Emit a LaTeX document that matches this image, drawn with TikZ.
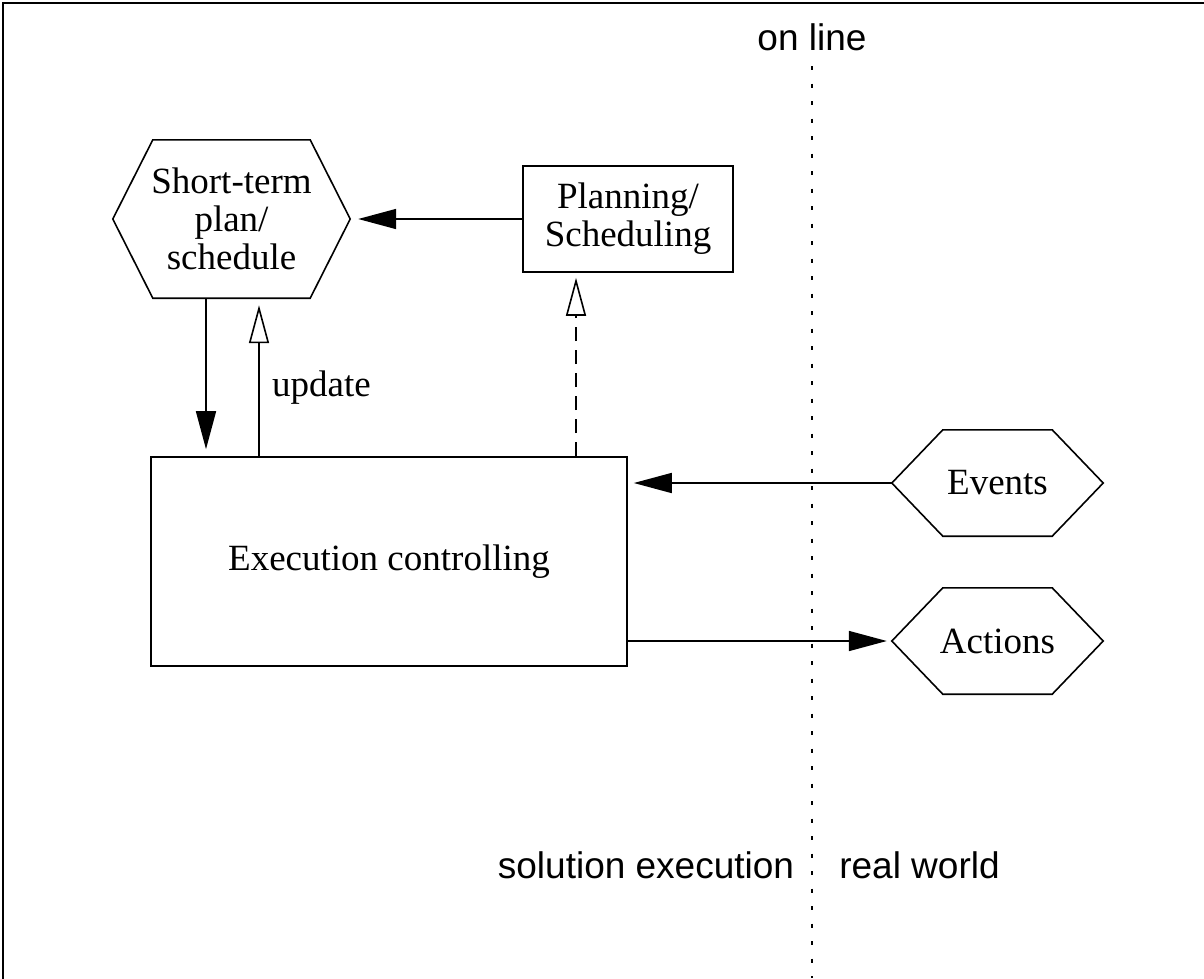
\documentclass[tikz,border=0pt]{standalone}
\usepackage{fontspec}
\setmainfont{Liberation Serif}
\setsansfont{Liberation Sans}
\usetikzlibrary{arrows.meta,calc}
\begin{document}
\begin{tikzpicture}[x=1pt,y=-1pt,
  every node/.style={font=\fontsize{37}{38}\selectfont},
  ln/.style={line width=1.6pt},
  boxnode/.style={draw,ln,rectangle,inner sep=0pt,align=center},
  hexnode/.style={rectangle,inner sep=0pt,align=center},
  sanslabel/.style={font=\fontsize{37}{38}\selectfont\sffamily,inner sep=0pt},
  fillarrow/.style={ln,-{Triangle[length=38pt,width=20pt]}},
  openarrow/.style={ln,-{Triangle[open,length=38pt,width=20pt,line width=1.6pt]}},
  dotline/.style={line width=2pt,dash pattern=on 4pt off 13.5pt}
]
\useasboundingbox (0,0) rectangle (1204,978);
\clip (0,0) rectangle (1204,978);
\draw[line width=2pt] (3,1000) -- (3,3) -- (1220,3);

% nodes
\node[hexnode,minimum width=237pt,minimum height=158pt] (stp) at (231.5,219) {Short-term\\plan/\\schedule};
\draw[ln] (stp.west) -- ([xshift=40pt]stp.north west) -- ([xshift=-40pt]stp.north east) -- (stp.east)
  -- ([xshift=-40pt]stp.south east) -- ([xshift=40pt]stp.south west) -- cycle;

\node[boxnode,minimum width=210pt,minimum height=106pt] (plan) at (628,219) {Planning/\\Scheduling};

\node[boxnode,minimum width=476pt,minimum height=209pt] (exec) at (389,561.5) {Execution controlling};

\node[hexnode,minimum width=211pt,minimum height=106pt] (ev) at (997.5,483) {Events};
\draw[ln] (ev.west) -- ([xshift=51pt]ev.north west) -- ([xshift=-51pt]ev.north east) -- (ev.east)
  -- ([xshift=-51pt]ev.south east) -- ([xshift=51pt]ev.south west) -- cycle;

\node[hexnode,minimum width=211pt,minimum height=106pt] (act) at (997.5,641) {Actions};
\draw[ln] (act.west) -- ([xshift=51pt]act.north west) -- ([xshift=-51pt]act.north east) -- (act.east)
  -- ([xshift=-51pt]act.south east) -- ([xshift=51pt]act.south west) -- cycle;

% labels
\node[sanslabel,anchor=base] (online) at (812,50) {on line};
\node[sanslabel,anchor=base] (sol) at (646,878) {solution execution};
\node[sanslabel,anchor=base] (real) at (919.5,878) {real world};
\node[anchor=base west,inner sep=0pt] (upd) at (272,396) {update};

% dotted separator
\coordinate (dotend) at (812,978);
\draw[dotline] (online.base |- 0,66) -- (dotend);

% connectors
\draw[fillarrow,shorten >=8pt] (plan.west) -- (stp.east);
\draw[fillarrow,shorten >=7pt] ([xshift=-25.5pt]stp.south) -- ([xshift=-25.5pt]stp.south |- exec.north);
\draw[openarrow,shorten >=7pt] ([xshift=27.5pt]stp.south |- exec.north) -- ([xshift=27.5pt]stp.south);
\draw[openarrow,dash pattern=on 14pt off 9pt,shorten >=5pt] ([xshift=-52pt]plan.south |- exec.north) -- ([xshift=-52pt]plan.south);
\draw[fillarrow,shorten >=6pt] (ev.west) -- (ev.west -| exec.east);
\draw[fillarrow,shorten >=5pt] (act.west -| exec.east) -- (act.west);
\end{tikzpicture}
\end{document}
